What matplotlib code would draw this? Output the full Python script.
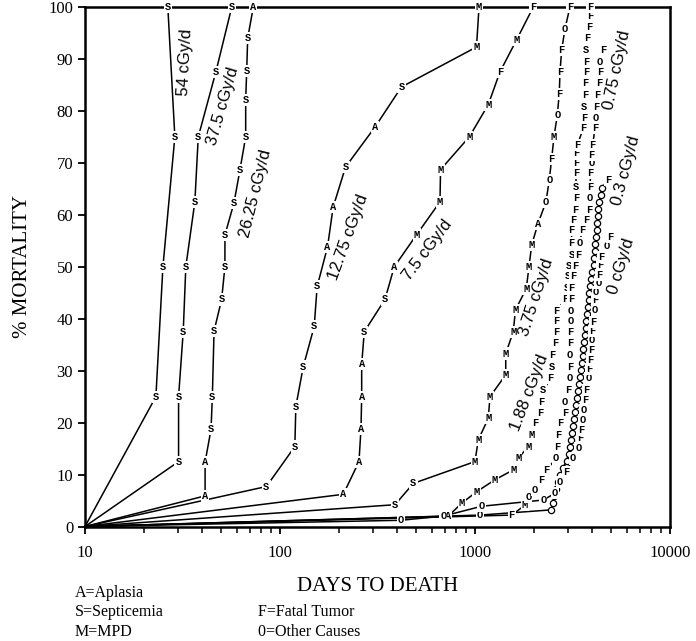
import matplotlib
matplotlib.use("Agg")
import matplotlib.pyplot as plt

# ---- data: days to death, cumulative % mortality, cause of death per animal ----
d54 = [23.1, 25.1, 28.9, 26.6]
p54 = [25, 50, 75, 100]
c54 = "SSSS"

d375 = [30.2, 30.2, 31.9, 32.9, 36.6, 38.1, 46.9, 56.6]
p375 = [12.5, 25, 37.5, 50, 62.5, 75, 87.5, 100]
c375 = "SSSSSSSS"

d2625 = [41.3, 41.3, 44.3, 45.0, 45.9, 50.2, 52.2, 52.2, 58.1, 62.3, 66.7, 66.7, 67.5, 68.3, 73.0]
p2625 = [5.9, 12.4, 18.7, 25, 37.6, 43.7, 50, 56.1, 62.3, 68.6, 75, 82.1, 87.7, 94, 100]
c2625 = "AASSSSSSSSSSSSA"

d1275 = [85.2, 119.2, 120.6, 131.7, 149.8, 155.1, 175.3, 187.4, 216.9, 307.2, 419.8, 1018, 1049]
p1275 = [7.7, 15.4, 23.1, 30.8, 38.5, 46.2, 53.8, 61.5, 69.2, 76.9, 84.6, 92.3, 100]
c1275 = "SSSSSSAASASMM"

d75 = [211.2, 254.2, 260.3, 262.4, 262.4, 270.6, 345.4, 385.6, 502.5, 661.5, 666, 935, 1170, 1343, 1636, 1991]
p75 = [6.2, 12.5, 18.8, 25, 31.2, 37.5, 43.7, 50, 56.2, 62.5, 68.7, 75, 81.2, 87.5, 93.7, 100]
c75 = "AAAAASSAMMMMMFMF"

d3_75 = [389, 483, 1000, 1040, 1170, 1194, 1438, 1438, 1572, 1613, 1833, 1892, 1954,
         2104, 2313, 2404, 2474, 2542, 2643, 2706, 2729, 2784, 2894, 3070]
p3_75 = [4.2, 8.3, 12.5, 16.7, 20.8, 25.0, 29.2, 33.3, 37.5, 41.7, 45.8, 50.0, 54.2,
         58.3, 62.5, 66.7, 70.8, 75.0, 79.2, 83.3, 87.5, 91.7, 95.8, 100]
c3_75 = "SSMMMMMMMMMMMAOOFMOFFFOF"

d188 = [730, 855, 1020, 1266, 1572, 1668, 1876, 1954, 2032, 2154, 2189, 2240, 2444, 2474,
        2503, 2573, 2603, 2624, 2624, 2894, 2952, 3008, 3044, 3130, 3130, 3130, 3189, 3257,
        3297, 3297, 3297, 3323, 3323, 3347, 3596, 3626, 3626, 3665, 3678, 3708, 3708, 3708,
        3765, 3853, 3913, 3913]
p188 = [2.0, 4.5, 6.7, 9.0, 10.9, 13.1, 15.4, 17.6, 19.9, 21.8, 24.0, 26.2, 28.5, 30.8,
        33.0, 35.3, 37.5, 39.6, 41.5, 43.7, 45.9, 48.2, 50.1, 52.3, 54.5, 57.1, 59.0, 60.9,
        63.2, 65.4, 68.0, 69.9, 71.8, 73.4, 76.7, 78.6, 80.8, 83.1, 85.3, 87.5, 89.5, 91.7,
        94.0, 96.2, 98.3, 100]
c188 = "AMMMMMMMFFFSFSFFFFFFSSSSFFFFFSFFFFFFSFFFFSFFFF"

d075 = [1543, 1805, 1876, 2032, 2198, 2332, 2603, 2643, 2676, 2729, 2894, 2894, 3008, 3070,
        3070, 3070, 3070, 3096, 3106, 3106, 3106, 3130, 3189, 3257, 3374, 3455, 3537, 3708,
        3857, 3857, 3888, 3921, 3967, 3967, 4014, 4125, 4174, 4208, 4238, 4341, 4375, 4375, 4549]
p075 = [2.2, 4.1, 5.7, 7.0, 9.0, 10.9, 13.1, 15.4, 17.6, 19.9, 21.8, 24.0, 26.3, 28.5,
        30.8, 33.0, 35.3, 37.5, 39.6, 41.5, 43.7, 45.9, 48.2, 50.1, 52.3, 54.5, 57.1, 59.0,
        60.9, 63.2, 65.4, 68.0, 69.9, 71.5, 73.4, 76.7, 78.6, 80.8, 83.1, 85.3, 87.5, 89.5, 91.7]
c075 = "FMOOFFOFFFFOFOFOFFOOFFFFFOFFFOFFOFFFOFFFFOF"

d03 = [1061, 2453, 2512, 2557, 2603, 2666, 2745, 2827, 2947, 3018, 3070, 3106, 3143, 3180,
       3237, 3276, 3315, 3354, 3386, 3426, 3467, 3508, 3537, 3566, 3600, 3634, 3665, 3696,
       3731, 3753, 3785, 3830, 3857, 3904, 3950, 4006, 4054, 4088, 4125, 4150, 4174, 4214,
       4249, 4274, 4289, 4351, 4403, 4466, 4816]
p03 = [2.2, 3.2, 4.5, 5.9, 7.2, 8.6, 9.9, 11.3, 12.6, 14.0, 15.3, 16.7, 18.0, 19.4, 20.7,
       22.0, 23.4, 24.7, 26.1, 27.4, 28.8, 30.1, 31.5, 32.8, 34.2, 35.5, 36.9, 38.2, 39.6,
       40.9, 42.3, 43.6, 45.0, 46.3, 47.6, 49.0, 50.3, 51.7, 53.0, 54.4, 55.7, 57.1, 58.4,
       59.8, 61.1, 62.5, 63.8, 65.2, 66.7]
c03 = "O" + "o" * 47 + "F"

d0 = [416, 688, 1082, 2240, 2573, 2729, 2928, 3189, 3386, 3455, 3525, 3556, 3596, 3665,
      3738, 3810, 3841, 3888, 3967, 3967, 4004, 4044, 4125, 4125, 4174, 4289, 4325, 4375,
      4427, 4736, 4924]
p0 = [1.2, 2.0, 3.9, 5.1, 6.4, 8.5, 10.5, 13.1, 15.1, 17.0, 18.6, 20.5, 22.4, 24.3, 26.3,
      28.5, 30.3, 32.0, 34.0, 35.9, 37.7, 39.4, 41.7, 43.6, 45.2, 46.8, 48.5, 50.3, 51.9,
      53.9, 55.8]
c0 = "OOOOOOFOOFFOOFFOFFFOFFOFOOFFFOF"

curves = [(d54, p54, c54), (d375, p375, c375), (d2625, p2625, c2625), (d1275, p1275, c1275),
          (d75, p75, c75), (d3_75, p3_75, c3_75), (d188, p188, c188), (d075, p075, c075),
          (d03, p03, c03), (d0, p0, c0)]

# label text, position (days, %), rotation
dose_labels = [("54 cGy/d", 32.6, 89.4, 87), ("37.5 cGy/d", 51.2, 80.9, 74),
               ("26.25 cGy/d", 74.6, 64.1, 76), ("12.75 cGy/d", 223, 55.7, 70),
               ("7.5 cGy/d", 570, 53.3, 53), ("3.75 cGy/d", 2072, 44.2, 72),
               ("1.88 cGy/d", 1912, 25.8, 69), ("0.75 cGy/d", 5350, 87.9, 78),
               ("0.3 cGy/d", 5950, 68.6, 75), ("0 cGy/d", 5650, 50.0, 73)]

fig = plt.figure(figsize=(6.96, 6.41), dpi=100)
ax = fig.add_axes([0.1221, 0.1786, 0.8405, 0.8105])
ax.set_xscale("log")
ax.set_xlim(10, 10000)
ax.set_ylim(0, 100)

mark_font = dict(family="Liberation Mono", weight="bold", size=7.5)
for days, pct, causes in curves:
    ax.plot([10] + days, [0] + pct, color="black", lw=1.1, zorder=2, clip_on=False)
    for d, p, c in zip(days, pct, causes):
        if c == "o":
            ax.plot(d, p, marker="o", ms=4.5, mfc="white", mec="black", mew=0.9,
                    zorder=4, clip_on=False)
        else:
            ax.text(d, p, c, ha="center", va="center", fontdict=mark_font, zorder=5,
                    bbox=dict(boxstyle="square,pad=0.1", fc="white", ec="none"),
                    clip_on=False)

for txt, d, p, rot in dose_labels:
    ax.text(d, p, txt, rotation=rot, ha="center", va="center", family="Liberation Sans",
            fontsize=12, rotation_mode="anchor", zorder=6)

for s in ax.spines.values():
    s.set_linewidth(1.8)
    s.set_zorder(3)

serif = "Liberation Serif"
ax.set_xticks([10, 100, 1000, 10000])
ax.set_xticklabels(["10", "100", "1000", "10000"], family=serif, fontsize=12)
ax.set_yticks(range(0, 101, 10))
ax.set_yticklabels([str(v) for v in range(0, 101, 10)], family=serif, fontsize=12)
ax.tick_params(axis="both", which="major", direction="out", length=5, width=1.3)
ax.tick_params(axis="x", which="minor", direction="out", length=4.5, width=1.1)
ax.tick_params(axis="x", pad=8)

ax.set_xlabel("DAYS TO DEATH", family=serif, fontsize=15, labelpad=12)
ax.set_ylabel("% MORTALITY", family=serif, fontsize=15, labelpad=12)

# cause-of-death key
key_left = ["A=Aplasia", "S=Septicemia", "M=MPD"]
key_right = ["F=Fatal Tumor", "0=Other Causes"]
for i, t in enumerate(key_left):
    fig.text(75 / 696, 1 - (593 + 19.5 * i) / 641, t, family=serif, fontsize=11.5, va="center")
for i, t in enumerate(key_right):
    fig.text(258 / 696, 1 - (612 + 19.5 * i) / 641, t, family=serif, fontsize=11.5, va="center")

fig.savefig("out.png", dpi=100)
